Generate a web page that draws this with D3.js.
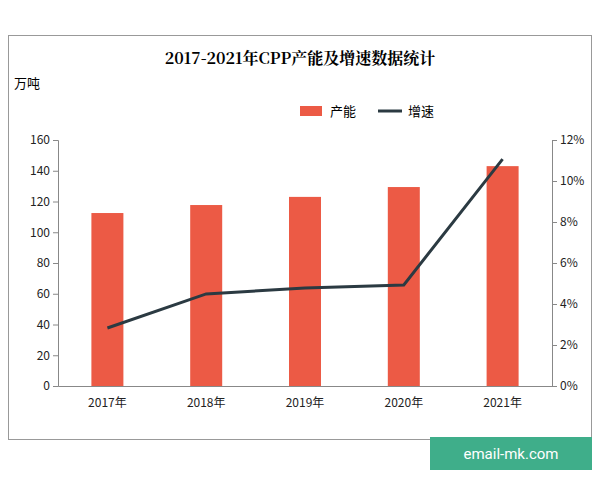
<!DOCTYPE html><html><head><meta charset="utf-8"><script src="https://cdn.jsdelivr.net/npm/d3@7"></script>
<style>body{margin:0;background:#fff}</style></head><body><svg id="c" width="600" height="480"></svg>
<script>
const categories=["2017年","2018年","2019年","2020年","2021年"];
const capacity=[112.5,117.7,123,129.4,143];
const growth=[2.83,4.49,4.78,4.93,11.07];
const leftTicks=[0,20,40,60,80,100,120,140,160];
const rightTicks=[0,2,4,6,8,10,12];
const svg=d3.select("#c");
const f="'Noto Sans CJK SC', sans-serif";
svg.append("rect").attr("x",8.5).attr("y",35.5).attr("width",583).attr("height",404).attr("fill","#fff").attr("stroke","#999");
svg.append("text").attr("x",300).attr("y",64).attr("text-anchor","middle").attr("font-family","'Noto Serif CJK SC','Noto Sans CJK SC',serif").attr("font-weight","bold").attr("font-size",16).text("2017-2021年CPP产能及增速数据统计");
svg.append("text").attr("x",14).attr("y",88).attr("font-family",f).attr("font-size",13).text("万吨");
const x=d3.scaleBand().domain(categories).range([58,552]);
const y=d3.scaleLinear().domain([0,160]).range([386,140]);
const y2=d3.scaleLinear().domain([0,12]).range([386,140]);
const gl=svg.append("g").attr("transform","translate(58,0)").call(d3.axisLeft(y).tickValues(leftTicks).tickSize(5));
const gr=svg.append("g").attr("transform","translate(552,0)").call(d3.axisRight(y2).tickValues(rightTicks).tickSize(5).tickFormat(d=>d+"%"));
const gb=svg.append("g").attr("transform","translate(0,386)").call(d3.axisBottom(x).tickSize(0).tickPadding(12));
[gl,gr,gb].forEach(g=>{g.selectAll("path,line").attr("stroke","#888");g.selectAll("text").attr("font-family",f).attr("font-size",12).attr("fill","#222");});
const bw=32;
svg.selectAll(".b").data(capacity).join("rect").attr("x",(d,i)=>x(categories[i])+x.bandwidth()/2-bw/2).attr("y",d=>y(d)).attr("width",bw).attr("height",d=>386-y(d)).attr("fill","#ec5a45");
svg.append("path").datum(growth).attr("d",d3.line().x((d,i)=>x(categories[i])+x.bandwidth()/2).y(d=>y2(d))).attr("fill","none").attr("stroke","#2b3a42").attr("stroke-width",3);
svg.append("rect").attr("x",300).attr("y",106).attr("width",22).attr("height",10).attr("fill","#ec5a45");
svg.append("text").attr("x",330).attr("y",116).attr("font-family",f).attr("font-size",13).text("产能");
svg.append("line").attr("x1",378).attr("x2",402).attr("y1",111).attr("y2",111).attr("stroke","#2b3a42").attr("stroke-width",3);
svg.append("text").attr("x",408).attr("y",116).attr("font-family",f).attr("font-size",13).text("增速");
svg.append("rect").attr("x",430).attr("y",437).attr("width",162).attr("height",33).attr("fill","#3fae8a");
svg.append("text").attr("x",511).attr("y",459).attr("text-anchor","middle").attr("font-family","Roboto,sans-serif").attr("font-size",15).attr("fill","#fff").text("email-mk.com");
</script></body></html>
